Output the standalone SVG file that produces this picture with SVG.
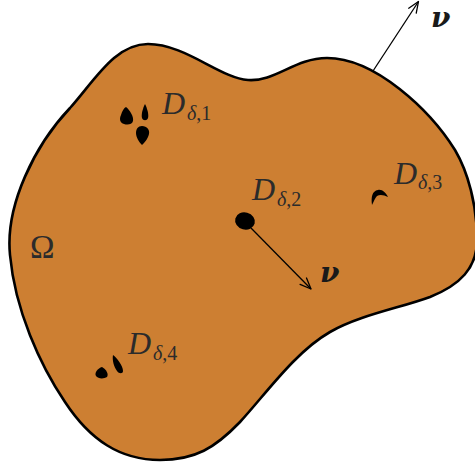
<svg xmlns="http://www.w3.org/2000/svg" width="475" height="469" viewBox="0 0 475 469">
<style>
.dom{fill:#CD7F32;stroke:#000;stroke-width:2.6;stroke-linejoin:round}
.blob{fill:#000;stroke:none}
.conn{stroke:#000;stroke-width:1.3;fill:none}
.lbl{font-family:"Liberation Serif","DejaVu Serif",serif;fill:#2b2b2b}
.it{font-style:italic}
.big{font-size:32px}
.sub{font-size:20px}
.om{font-size:33px}
.nu{font-family:"DejaVu Serif","Liberation Serif",serif;font-style:italic;font-weight:bold;font-size:28px;fill:#1a1a1a}
</style>
<defs>
<marker id="arr" markerUnits="userSpaceOnUse" markerWidth="16" markerHeight="12" refX="0" refY="0" viewBox="-12 -6 14 12" orient="auto">
<path d="M -11,-4.5 L 0,0 L -11,4.5" fill="none" stroke="#000" stroke-width="1.3" stroke-linecap="round" stroke-linejoin="round"/>
</marker>
</defs>
<g id="domain">
<path class="dom" d="M 148,44 C 185,44 220,78 248,80 C 275,82 295,58 327,58 C 375,58 430,110 455,150 C 468,172 477,205 477,240 C 477,268 460,285 430,297 C 400,308 360,315 330,332 C 295,352 265,395 240,422 C 215,448 195,460 160,460 C 120,460 90,440 65,402 C 40,365 15,310 10,255 C 5,205 35,145 70,108 C 95,80 115,44 148,44 Z"/>
<text class="lbl om" x="30" y="258">Ω</text>
</g>
<g id="D1">
<path class="blob" d="M 126,107 C 130,110 134,117 133,121 C 132,125 127,125 124,124 C 120,123 119,119 121,115 C 122,111 124,108 126,107 Z"/>
<path class="blob" d="M 145,104 C 147,108 149,114 148,118 C 147,121 143,121 142,118 C 141,114 143,108 145,104 Z"/>
<path class="blob" d="M 142,126 C 147,126 150,130 149,134 C 148,139 144,143 142,145 C 139,142 136,137 136,133 C 136,129 138,126 142,126 Z"/>
<text class="lbl" x="162" y="114"><tspan class="it big">D</tspan><tspan class="sub it" x="187" y="120">δ</tspan><tspan class="sub">,1</tspan></text>
</g>
<g id="D2">
<ellipse class="blob" cx="245" cy="221" rx="10" ry="8.5" transform="rotate(15 245 221)"/>
<text class="lbl" x="252" y="200"><tspan class="it big">D</tspan><tspan class="sub it" x="277" y="206">δ</tspan><tspan class="sub">,2</tspan></text>
</g>
<g id="D3">
<path class="blob" d="M 372,205 C 371,197 372,191 378,190 C 382,189 386,193 388,197 C 384,195 380,194 377,196 C 375,198 374,201 372,205 Z"/>
<text class="lbl" x="394" y="184"><tspan class="it big">D</tspan><tspan class="sub it" x="418" y="189">δ</tspan><tspan class="sub">,3</tspan></text>
</g>
<g id="D4">
<path class="blob" d="M 102,367 C 106,369 109,374 107,377 C 104,379 98,379 96,376 C 94,373 98,368 102,367 Z"/>
<path class="blob" d="M 113,355 C 117,358 123,366 123,371 C 123,374 119,374 117,371 C 114,367 112,360 113,355 Z"/>
<text class="lbl" x="128" y="354"><tspan class="it big">D</tspan><tspan class="sub it" x="153" y="360">δ</tspan><tspan class="sub">,4</tspan></text>
</g>
<g id="connectors">
<line class="conn" x1="373" y1="71" x2="418.5" y2="1.5" marker-end="url(#arr)"/>
<line class="conn" x1="251" y1="228" x2="311" y2="289" marker-end="url(#arr)"/>
</g>
<g id="normals">
<text class="nu" x="431" y="27">ν</text>
<text class="nu" x="320" y="282">ν</text>
</g>
</svg>
